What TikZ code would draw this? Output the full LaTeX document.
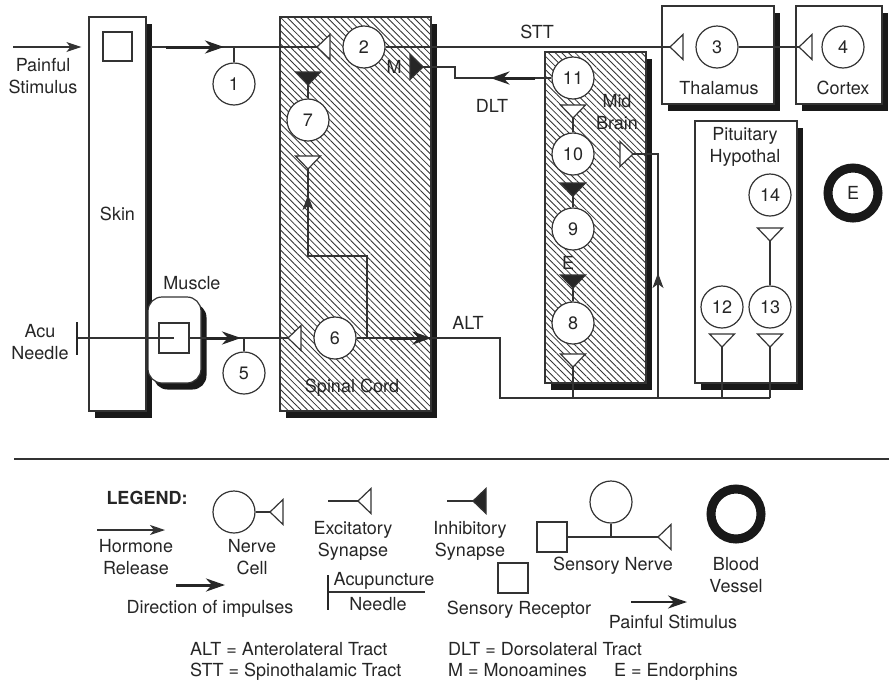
\documentclass[tikz,border=0pt]{standalone}
\usepackage{fontspec}
\setmainfont{TeX Gyre Heros}
\usetikzlibrary{arrows.meta, positioning, shadows, patterns.meta, decorations.markings}
\tikzset{
  tract/.style={line width=1.2pt, draw=black!80},
  neuron/.style={circle, draw=black!80, fill=white, line width=1.2pt,
                 minimum size=42pt, inner sep=0pt, text=black!85},
  organ/.style={rectangle, draw=black!80, fill=white, line width=1.2pt, inner sep=0pt,
                text=black!85,
                general shadow={fill=black!90, shadow xshift=5.5pt, shadow yshift=-6.5pt}},
  hatched/.style={rectangle, draw=black!80, line width=1.2pt, inner sep=0pt,
                  general shadow={fill=black!90, shadow xshift=5.5pt, shadow yshift=-6.5pt},
                  preaction={fill=white},
                  pattern={Lines[angle=-45, distance=4.7pt, line width=0.85pt]},
                  pattern color=black!80},
  receptor/.style={rectangle, draw=black!80, fill=white, line width=1.2pt,
                   minimum size=30pt, inner sep=0pt},
  vessel/.style={circle, draw=black!90, line width=9pt, minimum size=50pt,
                 inner sep=0pt, text=black!85},
  txt/.style={align=center, inner sep=0pt, text=black!85},
  thinarr/.style={tract, -{Stealth[length=15pt, width=10pt, inset=4pt]}},
  thickarr/.style={line width=3pt, draw=black!85, -{Stealth[length=19pt, width=13pt, inset=6pt]}},
  midarrow/.style={postaction={decorate, decoration={markings,
      mark=at position #1 with {\arrow{Stealth[length=15pt, width=11pt, inset=4pt]}}}}},
  excsyn/.pic={\draw[tract, fill=white] (0,0) -- (13,12.5) -- (13,-12.5) -- cycle;},
  inhsyn/.pic={\draw[tract, fill=black!85] (0,0) -- (13,12.5) -- (13,-12.5) -- cycle;},
}

\begin{document}
\begin{tikzpicture}[x=1pt, y=-1pt, font=\fontsize{18}{22}\selectfont]
  \useasboundingbox (0,0) rectangle (889,694);

  \node[organ, minimum width=57pt, minimum height=394pt] (skin) at (117.5,214) {Skin};
  \node[receptor, minimum size=29pt] (skinrec) at (117.5,46.5) {};
  \node[organ, rounded corners=14pt, minimum width=53pt, minimum height=86pt] (muscle) at (174.5,340) {};
  \node[receptor] (musclerec) at (174,338) {};
  \node[txt] (musclelbl) at (192,283) {Muscle};

  \node[hatched, minimum width=151pt, minimum height=394pt] (spinal) at (355.5,214) {};
  \node[txt] (spinallbl) at (352,388) {Spinal Cord};
  \node[hatched, minimum width=101pt, minimum height=331pt] (midbrain) at (595.5,217.5) {};
  \node[txt] (midlbl) at (617,112) {Mid\\Brain};
  \node[organ, minimum width=112pt, minimum height=98pt] (thalamus) at (718,55) {};
  \node[txt] (thallbl) at (719,88) {Thalamus};
  \node[organ, minimum width=86pt, minimum height=98pt] (cortex) at (839,55) {};
  \node[txt] (cortlbl) at (843,88) {Cortex};
  \node[organ, minimum width=102pt, minimum height=262pt] (pituitary) at (746,252) {};
  \node[txt] (pitlbl) at (745,147) {Pituitary\\Hypothal};
  \node[vessel] (vessel) at (853,193) {E};

  \node[neuron] (n1) at (234,84) {1};
  \node[neuron] (n2) at (364,47) {2};
  \node[neuron] (n3) at (717,47) {3};
  \node[neuron] (n4) at (843,47) {4};
  \node[neuron] (n5) at (244,373) {5};
  \node[neuron] (n6) at (335,338) {6};
  \node[neuron] (n7) at (308,120) {7};
  \node[neuron] (n8) at (573,323) {8};
  \node[neuron] (n9) at (573,229) {9};
  \node[neuron] (n10) at (573,154) {10};
  \node[neuron] (n11) at (573,78) {11};
  \node[neuron] (n12) at (722,307) {12};
  \node[neuron] (n13) at (770,307) {13};
  \node[neuron] (n14) at (770,195) {14};

  \node[txt] (painlbl) at (43,76) {Painful\\Stimulus};
  \node[txt] (acululbl) at (40,342) {Acu\\Needle};
  \node[txt] (sttlbl) at (537,32) {STT};
  \node[txt] (dltlbl) at (492,106) {DLT};
  \node[txt] (altlbl) at (468,323) {ALT};
  \node[txt] (mlbl) at (394,67) {M};
  \node[txt] (elbl) at (568,263) {E};

  \coordinate (painin) at (13,47);
  \coordinate (aff1) at (151,47);
  \coordinate (j1) at (n1 |- aff1);
  \coordinate (needle) at (77,338);
  \coordinate (j5) at (n5 |- needle);
  \coordinate (j6) at (367,338);
  \coordinate (altout) at (500,338);
  \coordinate (altbend) at (500,398);
  \coordinate (busend) at (770,398);
  \coordinate (hormup) at (658,398);
  \coordinate (s2) at (317,47);
  \coordinate (s3) at (670,47);
  \coordinate (s4) at (799,47);
  \coordinate (sM) at (423,67);
  \coordinate (s6) at (288,338);
  \coordinate (s7a) at (308,85);
  \coordinate (s7b) at (308,169);
  \coordinate (s10) at (573,118);
  \coordinate (s9) at (573,196);
  \coordinate (s8) at (573,288);
  \coordinate (sALT) at (573,367);
  \coordinate (sR) at (633,154);
  \coordinate (s14) at (770,241);
  \coordinate (s12) at (722,347);
  \coordinate (s13) at (770,347);

  \draw[thinarr] (painin) -- ([xshift=-7pt]skin.west |- painin);
  \draw[tract] (aff1) -- (s2);
  \draw[thickarr] ([xshift=15pt]aff1) -- ([xshift=-10pt]j1);
  \draw[tract] (j1) -- (n1);
  \draw[tract] (n2) -- (s3);
  \draw[tract] (n3) -- (s4);
  \draw[tract] (sM) -- ++(32,0) |- (n11);
  \draw[thickarr] ([xshift=-16pt]n11.west) -- ++(-45,0);
  \draw[tract] (s7a) -- (n7);
  \draw[tract, midarrow=202pt] (j6) -- ++(0,-82) -| (s7b);
  \draw[tract] (needle) -- (musclerec.center);
  \draw[line width=2.5pt, draw=black!85] (needle) ++(0,-16) -- ++(0,33);
  \draw[tract] (musclerec.east) -- (s6);
  \draw[thickarr] ([xshift=16pt]musclerec.east) -- ([xshift=-3pt]j5);
  \draw[tract] (j5) -- (n5);
  \draw[tract] (n6) -- (altout) -- (altbend) -- (busend);
  \draw[thickarr] ([xshift=23pt]j6) -- (spinal.east |- j6);
  \draw[tract] (s10) -- (n10);
  \draw[tract] (s9) -- (n9);
  \draw[tract] (s8) -- (n8);
  \draw[tract] (sALT) -- (sALT |- altbend);
  \draw[tract, midarrow=125pt] (hormup) |- (sR);
  \draw[tract] (s12) -- (s12 |- altbend);
  \draw[tract] (s13) -- (busend);
  \draw[tract] (s14) -- (n13);

  \pic at (s2) {excsyn};
  \pic at (s3) {excsyn};
  \pic at (s4) {excsyn};
  \pic at (s6) {excsyn};
  \pic[rotate=180] at (sM) {inhsyn};
  \pic[rotate=90] at (s7a) {inhsyn};
  \pic[rotate=90] at (s7b) {excsyn};
  \pic[rotate=90] at (s10) {excsyn};
  \pic[rotate=90] at (s9) {inhsyn};
  \pic[rotate=90] at (s8) {inhsyn};
  \pic[rotate=90] at (sALT) {excsyn};
  \pic[rotate=180] at (sR) {excsyn};
  \pic[rotate=90] at (s14) {excsyn};
  \pic[rotate=90] at (s12) {excsyn};
  \pic[rotate=90] at (s13) {excsyn};

  \draw[line width=2pt, draw=black!80] (14,459) -- (889,459);
  \node[txt, font=\fontsize{18}{22}\selectfont\bfseries] (legend) at (147,498) {LEGEND:};

  \coordinate (lghorm) at (97,530);
  \draw[thinarr] (lghorm) -- ++(68,0);
  \node[txt] (lghormlbl) at (136,557) {Hormone\\Release};

  \node[neuron] (lgcell) at (234,512) {};
  \coordinate (lgcellsyn) at (270,512);
  \draw[tract] (lgcell) -- (lgcellsyn);
  \pic at (lgcellsyn) {excsyn};
  \node[txt] (lgcelllbl) at (252,557) {Nerve\\Cell};

  \coordinate (lgexc) at (358,501);
  \draw[tract] (lgexc) -- ++(-30,0);
  \pic at (lgexc) {excsyn};
  \node[txt] (lgexclbl) at (353,541) {Excitatory\\Synapse};

  \coordinate (lginh) at (473,501);
  \draw[tract] (lginh) -- ++(-26,0);
  \pic at (lginh) {inhsyn};
  \node[txt] (lginhlbl) at (470,541) {Inhibitory\\Synapse};

  \coordinate (lgneedle) at (328,592);
  \draw[tract] (lgneedle) -- ++(97,0);
  \draw[line width=2.5pt, draw=black!85] (lgneedle) ++(0,-17) -- ++(0,35);
  \node[txt] (lgneedlelbl) at (384,581) {Acupuncture};
  \node[txt] (lgneedlelbl2) at (378,604) {Needle};

  \coordinate (lgdir) at (176,585);
  \draw[thickarr] (lgdir) -- ++(49,0);
  \node[txt] (lgdirlbl) at (210,609) {Direction of impulses};

  \node[receptor] (lgrec) at (513,578) {};
  \node[txt] (lgreclbl) at (519,610) {Sensory Receptor};

  \node[receptor] (lgnrec) at (552,537) {};
  \node[neuron] (lgncell) at (611,502) {};
  \coordinate (lgnsyn) at (658,537);
  \draw[tract] (lgnrec) -- (lgnsyn);
  \draw[tract] (lgncell) -- (lgncell |- lgnsyn);
  \pic at (lgnsyn) {excsyn};
  \node[txt] (lgnlbl) at (613,566) {Sensory Nerve};

  \node[vessel] (lgvessel) at (736,514) {};
  \node[txt] (lgvessellbl) at (736,575) {Blood\\Vessel};

  \coordinate (lgpain) at (631,602);
  \draw[thickarr, line width=2.5pt] (lgpain) -- ++(56,0);
  \node[txt] (lgpainlbl) at (673,622) {Painful Stimulus};

  \node[txt, anchor=base west] (altdef) at (190,655.5) {ALT = Anterolateral Tract};
  \node[txt, anchor=base west] (sttdef) at (190,676.5) {STT = Spinothalamic Tract};
  \node[txt, anchor=base west] (dltdef) at (448,655.5) {DLT = Dorsolateral Tract};
  \node[txt, anchor=base west] (mdef) at (448,676.5) {M = Monoamines};
  \node[txt, anchor=base west] (edef) at (614,676.5) {E = Endorphins};
\end{tikzpicture}
\end{document}
